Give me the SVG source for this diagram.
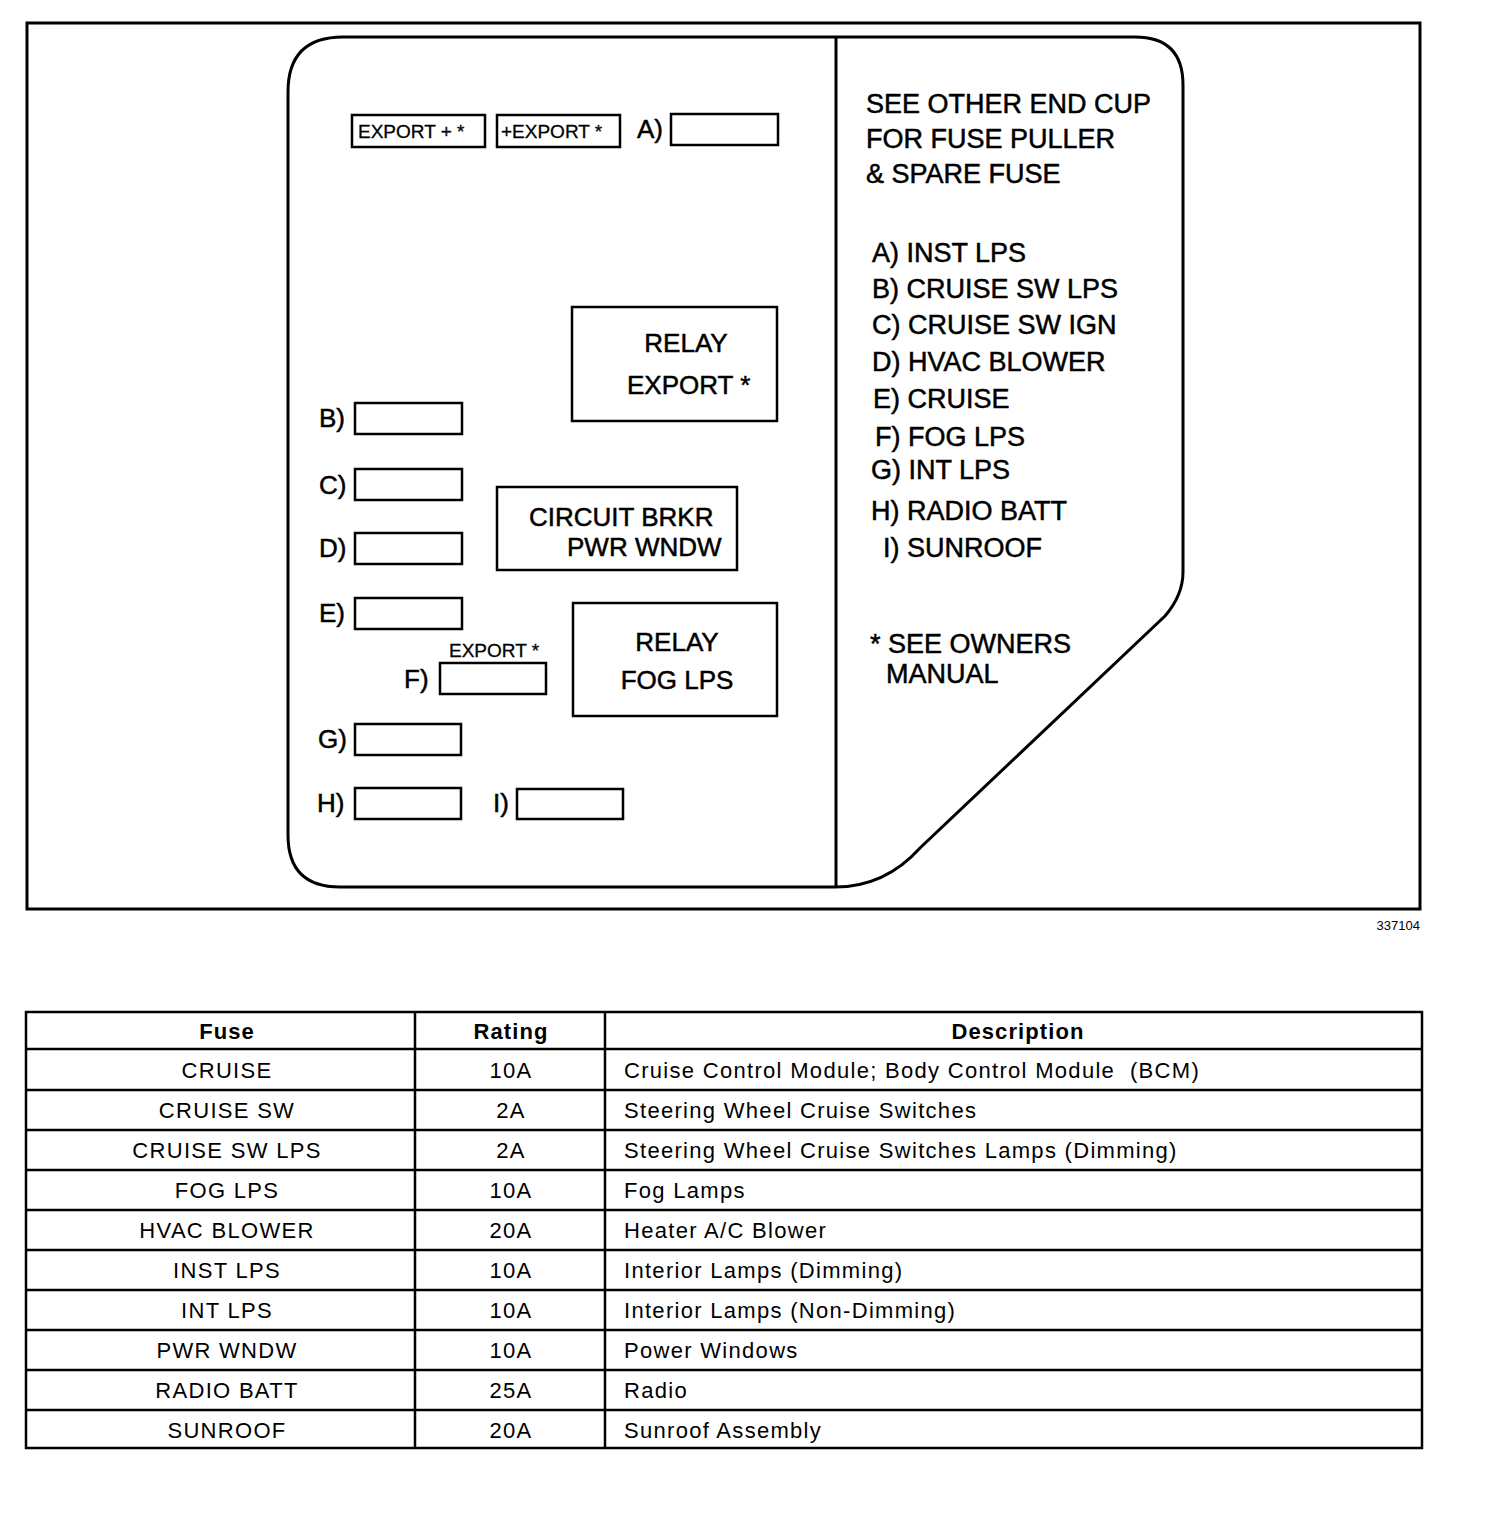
<svg xmlns="http://www.w3.org/2000/svg" width="1504" height="1514" viewBox="0 0 1504 1514">
<style>
text{font-family:"Liberation Sans",Arial,sans-serif;fill:#000}
.p{font-size:27px;stroke:#000;stroke-width:0.5}
.l{font-size:26px;stroke:#000;stroke-width:0.5}
.s{font-size:19px;stroke:#000;stroke-width:0.3}
.fuse{fill:#fff;stroke:#000;stroke-width:2.5}
.box{fill:#fff;stroke:#000;stroke-width:2.5}
.t{font-size:22px;letter-spacing:1.3px}
.h{font-size:22px;font-weight:bold;letter-spacing:1.1px}
.c{text-anchor:middle}
.grid{stroke:#000;stroke-width:2.5;fill:none}
</style>
<rect width="1504" height="1514" fill="#fff"/>
<g id="frame">
<rect x="27" y="23" width="1393" height="886" fill="none" stroke="#000" stroke-width="3"/>
<text x="1420" y="930" font-size="13" text-anchor="end">337104</text>
</g>
<g id="panel">
<path d="M343,37 H1135 Q1183,37 1183,85 V572 Q1183,595 1165,616 L920,848 Q885,887 835,887 H340 Q288,887 288,835 V92 Q288,37 343,37 Z" fill="#fff" stroke="#000" stroke-width="3"/>
<line x1="836" y1="37" x2="836" y2="887" stroke="#000" stroke-width="3"/>
</g>
<g id="export-plus-1">
<rect class="box" x="352" y="115" width="133" height="32"/>
<text class="s" x="358" y="138">EXPORT + *</text>
</g>
<g id="export-plus-2">
<rect class="box" x="497" y="115" width="123" height="32"/>
<text class="s" x="501" y="138">+EXPORT *</text>
</g>
<g id="fuse-a">
<text class="l" x="637" y="138">A)</text>
<rect class="fuse" x="671" y="114" width="107" height="31"/>
</g>
<g id="relay-export">
<rect class="box" x="572" y="307" width="205" height="114"/>
<text class="l" x="686" y="352" text-anchor="middle">RELAY</text>
<text class="l" x="627" y="394">EXPORT *</text>
</g>
<g id="fuse-b">
<text class="l" x="319" y="427">B)</text>
<rect class="fuse" x="355" y="403" width="107" height="31"/>
</g>
<g id="fuse-c">
<text class="l" x="319" y="494">C)</text>
<rect class="fuse" x="355" y="469" width="107" height="31"/>
</g>
<g id="circuit-brkr">
<rect class="box" x="497" y="487" width="240" height="83"/>
<text class="l" x="529" y="526">CIRCUIT BRKR</text>
<text class="l" x="567" y="556">PWR WNDW</text>
</g>
<g id="fuse-d">
<text class="l" x="319" y="557">D)</text>
<rect class="fuse" x="355" y="533" width="107" height="31"/>
</g>
<g id="fuse-e">
<text class="l" x="319" y="622">E)</text>
<rect class="fuse" x="355" y="598" width="107" height="31"/>
</g>
<g id="fuse-f">
<text class="s" x="449" y="657" font-size="20">EXPORT *</text>
<text class="l" x="404" y="688">F)</text>
<rect class="fuse" x="440" y="663" width="106" height="31"/>
</g>
<g id="relay-fog">
<rect class="box" x="573" y="603" width="204" height="113"/>
<text class="l" x="677" y="651" text-anchor="middle">RELAY</text>
<text class="l" x="677" y="689" text-anchor="middle">FOG LPS</text>
</g>
<g id="fuse-g">
<text class="l" x="318" y="748">G)</text>
<rect class="fuse" x="355" y="724" width="106" height="31"/>
</g>
<g id="fuse-h">
<text class="l" x="317" y="812">H)</text>
<rect class="fuse" x="355" y="788" width="106" height="31"/>
</g>
<g id="fuse-i">
<text class="l" x="493" y="812">I)</text>
<rect class="fuse" x="517" y="789" width="106" height="30"/>
</g>
<g id="legend">
<text class="p" x="866" y="113">SEE OTHER END CUP</text>
<text class="p" x="866" y="148">FOR FUSE PULLER</text>
<text class="p" x="866" y="183">&amp; SPARE FUSE</text>
<text class="p" x="872" y="262">A) INST LPS</text>
<text class="p" x="872" y="298">B) CRUISE SW LPS</text>
<text class="p" x="872" y="334">C) CRUISE SW IGN</text>
<text class="p" x="872" y="371">D) HVAC BLOWER</text>
<text class="p" x="873" y="408">E) CRUISE</text>
<text class="p" x="875" y="446">F) FOG LPS</text>
<text class="p" x="871" y="479">G) INT LPS</text>
<text class="p" x="871" y="520">H) RADIO BATT</text>
<text class="p" x="883" y="557">I) SUNROOF</text>
<text class="p" x="870" y="653">* SEE OWNERS</text>
<text class="p" x="886" y="683">MANUAL</text>
</g>
<g id="table">
<rect class="grid" x="26" y="1012" width="1396" height="436" stroke-width="3"/>
<line class="grid" x1="415" y1="1012" x2="415" y2="1448"/>
<line class="grid" x1="605" y1="1012" x2="605" y2="1448"/>
<line class="grid" x1="26" y1="1049" x2="1422" y2="1049"/>
<line class="grid" x1="26" y1="1090" x2="1422" y2="1090"/>
<line class="grid" x1="26" y1="1130" x2="1422" y2="1130"/>
<line class="grid" x1="26" y1="1170" x2="1422" y2="1170"/>
<line class="grid" x1="26" y1="1210" x2="1422" y2="1210"/>
<line class="grid" x1="26" y1="1250" x2="1422" y2="1250"/>
<line class="grid" x1="26" y1="1290" x2="1422" y2="1290"/>
<line class="grid" x1="26" y1="1330" x2="1422" y2="1330"/>
<line class="grid" x1="26" y1="1370" x2="1422" y2="1370"/>
<line class="grid" x1="26" y1="1410" x2="1422" y2="1410"/>
<text class="h c" x="227" y="1039">Fuse</text>
<text class="h c" x="511" y="1039">Rating</text>
<text class="h c" x="1018" y="1039">Description</text>
<text class="t c" x="227" y="1078">CRUISE</text>
<text class="t c" x="511" y="1078">10A</text>
<text class="t" x="624" y="1078" xml:space="preserve">Cruise Control Module; Body Control Module  (BCM)</text>
<text class="t c" x="227" y="1118">CRUISE SW</text>
<text class="t c" x="511" y="1118">2A</text>
<text class="t" x="624" y="1118">Steering Wheel Cruise Switches</text>
<text class="t c" x="227" y="1158">CRUISE SW LPS</text>
<text class="t c" x="511" y="1158">2A</text>
<text class="t" x="624" y="1158">Steering Wheel Cruise Switches Lamps (Dimming)</text>
<text class="t c" x="227" y="1198">FOG LPS</text>
<text class="t c" x="511" y="1198">10A</text>
<text class="t" x="624" y="1198">Fog Lamps</text>
<text class="t c" x="227" y="1238">HVAC BLOWER</text>
<text class="t c" x="511" y="1238">20A</text>
<text class="t" x="624" y="1238">Heater A/C Blower</text>
<text class="t c" x="227" y="1278">INST LPS</text>
<text class="t c" x="511" y="1278">10A</text>
<text class="t" x="624" y="1278">Interior Lamps (Dimming)</text>
<text class="t c" x="227" y="1318">INT LPS</text>
<text class="t c" x="511" y="1318">10A</text>
<text class="t" x="624" y="1318">Interior Lamps (Non-Dimming)</text>
<text class="t c" x="227" y="1358">PWR WNDW</text>
<text class="t c" x="511" y="1358">10A</text>
<text class="t" x="624" y="1358">Power Windows</text>
<text class="t c" x="227" y="1398">RADIO BATT</text>
<text class="t c" x="511" y="1398">25A</text>
<text class="t" x="624" y="1398">Radio</text>
<text class="t c" x="227" y="1438">SUNROOF</text>
<text class="t c" x="511" y="1438">20A</text>
<text class="t" x="624" y="1438">Sunroof Assembly</text>
</g>
</svg>
